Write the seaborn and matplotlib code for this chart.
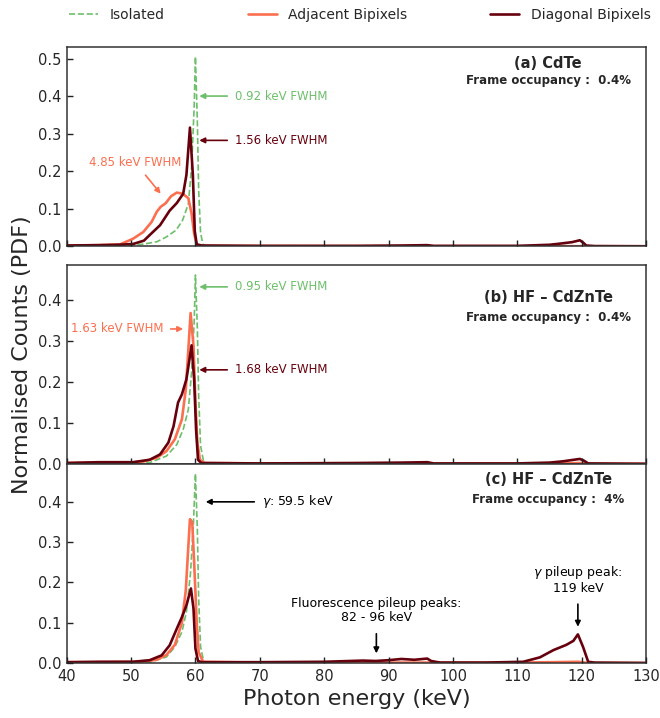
import seaborn as sns
import matplotlib.pyplot as plt
import numpy as np
import pandas as pd

sns.set_style('ticks', {'xtick.direction': 'in', 'ytick.direction': 'in'})
plt.rcParams['font.family'] = ['DejaVu Sans']

# ---- data (keV, normalised counts) ----
# panel (a) CdTe
a_iso_e = [40, 50, 52, 54, 55.5, 57, 58, 58.9, 59.4, 59.8, 60.0, 60.3, 60.5, 60.8, 61.2, 62, 130]
a_iso_v = [0, 0.002, 0.006, 0.012, 0.025, 0.043, 0.069, 0.113, 0.21, 0.37, 0.505, 0.33, 0.15, 0.035, 0.003, 0, 0]
a_adj_e = [40, 45, 48.3, 50.3, 51.9, 53.2, 54.0, 54.6, 55.4, 56.2, 57.1, 58.0, 58.9, 59.4, 59.8, 60.2, 61, 130]
a_adj_v = [0.002, 0.003, 0.005, 0.02, 0.038, 0.065, 0.092, 0.105, 0.115, 0.133, 0.143, 0.14, 0.128, 0.087, 0.034, 0.003, 0.001, 0]
a_dia_e = [40, 45, 48, 50.3, 52, 52.9, 54.5, 56.0, 57.1, 58.1, 58.6, 59.15, 59.6, 59.9, 60.2, 61, 70, 85, 92, 96, 97,
           110, 115, 116.6, 118.5, 119.7, 120.2, 120.7, 122, 130]
a_dia_v = [0.002, 0.003, 0.004, 0.006, 0.015, 0.03, 0.056, 0.095, 0.115, 0.14, 0.19, 0.316, 0.19, 0.04, 0.005, 0.002,
           0.001, 0.001, 0.002, 0.003, 0.001, 0.001, 0.004, 0.007, 0.011, 0.016, 0.01, 0.002, 0.0005, 0]

# panel (b) HF-CdZnTe, 0.4 %
b_iso_e = [40, 50, 52.9, 55.5, 57.1, 58.1, 58.9, 59.4, 59.8, 60.0, 60.3, 60.5, 60.8, 61.3, 62, 130]
b_iso_v = [0, 0.001, 0.003, 0.019, 0.047, 0.084, 0.133, 0.223, 0.346, 0.462, 0.33, 0.167, 0.044, 0.003, 0, 0]
b_adj_e = [40, 45, 50, 52, 54.0, 55.5, 56.8, 57.9, 58.5, 58.9, 59.25, 59.7, 60.0, 60.3, 60.7, 61.4, 70, 90, 96, 97,
           110, 117, 119.7, 121, 130]
b_adj_v = [0.002, 0.003, 0.003, 0.006, 0.015, 0.031, 0.06, 0.109, 0.182, 0.28, 0.369, 0.289, 0.15, 0.052, 0.01, 0.002,
           0.001, 0.001, 0.001, 0, 0, 0.001, 0.002, 0, 0]
b_dia_e = [40, 45, 48, 50.3, 52.9, 54.5, 55.8, 56.6, 57.3, 57.9, 58.6, 59.0, 59.4, 59.8, 60.1, 60.4, 60.9, 70, 85, 92,
           96, 97, 110, 115, 117, 119.7, 120.3, 121, 130]
b_dia_v = [0.002, 0.004, 0.004, 0.004, 0.01, 0.023, 0.052, 0.092, 0.15, 0.17, 0.207, 0.248, 0.29, 0.207, 0.084, 0.01,
           0.002, 0.001, 0.002, 0.003, 0.004, 0.001, 0.001, 0.003, 0.006, 0.012, 0.008, 0.001, 0]

# panel (c) HF-CdZnTe, 4 %
c_iso_e = [40, 50, 52.9, 55.5, 56.8, 57.9, 58.6, 59.25, 59.7, 60.0, 60.3, 60.5, 60.8, 61.3, 62, 130]
c_iso_v = [0, 0.001, 0.002, 0.015, 0.04, 0.077, 0.127, 0.226, 0.35, 0.47, 0.33, 0.16, 0.04, 0.003, 0, 0]
c_adj_e = [40, 45, 50, 52, 54.0, 55.5, 56.8, 57.9, 58.5, 58.9, 59.15, 59.5, 59.8, 60.2, 60.5, 61.2, 70, 110, 115,
           119.5, 121, 130]
c_adj_v = [0.002, 0.002, 0.003, 0.004, 0.008, 0.02, 0.045, 0.1, 0.18, 0.29, 0.357, 0.35, 0.25, 0.1, 0.027, 0.003,
           0.001, 0.001, 0.002, 0.003, 0, 0]
c_dia_e = [40, 45, 50.3, 52.9, 54.75, 56.0, 57.1, 57.9, 58.6, 59.3, 59.7, 60.0, 60.4, 61, 70, 80, 84, 86, 88, 90, 92,
           94, 96, 96.6, 98, 105, 110.9, 113.5, 115.6, 117.6, 118.7, 119.4, 120.2, 121.0, 122, 130]
c_dia_v = [0.002, 0.003, 0.003, 0.007, 0.019, 0.044, 0.085, 0.114, 0.143, 0.185, 0.135, 0.036, 0.005, 0.002, 0.002,
           0.003, 0.005, 0.006, 0.005, 0.007, 0.01, 0.008, 0.011, 0.005, 0.001, 0.001, 0.003, 0.014, 0.032, 0.045,
           0.055, 0.071, 0.04, 0.003, 0.001, 0]

panels = [
    dict(iso=(a_iso_e, a_iso_v), adj=(a_adj_e, a_adj_v), dia=(a_dia_e, a_dia_v),
         title='(a) CdTe', occ='Frame occupancy :  0.4%', ylim=0.53, yticks=[0, 0.1, 0.2, 0.3, 0.4, 0.5],
         ty=0.918, oy=0.831),
    dict(iso=(b_iso_e, b_iso_v), adj=(b_adj_e, b_adj_v), dia=(b_dia_e, b_dia_v),
         title='(b) HF \u2013 CdZnTe', occ='Frame occupancy :  0.4%', ylim=0.487, yticks=[0, 0.1, 0.2, 0.3, 0.4],
         ty=0.838, oy=0.737),
    dict(iso=(c_iso_e, c_iso_v), adj=(c_adj_e, c_adj_v), dia=(c_dia_e, c_dia_v),
         title='(c) HF \u2013 CdZnTe', occ='Frame occupancy :  4%', ylim=0.494, yticks=[0, 0.1, 0.2, 0.3, 0.4],
         ty=0.923, oy=0.823),
]

green = '#6dbf6a'
salmon = '#fb6f50'
maroon = '#67000d'

fig = plt.figure(figsize=(6.6, 7.18), dpi=100)
bottoms = [0.657, 0.354, 0.0766]
axes = []
for p, b in zip(panels, bottoms):
    ax = fig.add_axes([0.101, b, 0.878, 0.2772])
    sns.lineplot(x=p['iso'][0], y=p['iso'][1], ax=ax, color=green, lw=1.2, linestyle='--', label='Isolated')
    sns.lineplot(x=p['adj'][0], y=p['adj'][1], ax=ax, color=salmon, lw=1.9, label='Adjacent Bipixels')
    sns.lineplot(x=p['dia'][0], y=p['dia'][1], ax=ax, color=maroon, lw=1.9, label='Diagonal Bipixels')
    ax.set_xlim(40, 130)
    ax.set_ylim(0, p['ylim'])
    ax.set_yticks(p['yticks'])
    ax.set_xticks(np.arange(40, 131, 10))
    ax.set_axisbelow(False)
    for s in ax.spines.values():
        s.set_visible(True)
        s.set_color('#333333')
        s.set_linewidth(1.1)
    ax.text(0.831, p['ty'], p['title'], transform=ax.transAxes, ha='center', va='center',
            fontsize=10.5, weight='bold')
    ax.text(0.831, p['oy'], p['occ'], transform=ax.transAxes, ha='center', va='center',
            fontsize=8.5, weight='bold')
    ax.set_ylabel('')
    axes.append(ax)

handles, labels = axes[0].get_legend_handles_labels()
for ax in axes:
    ax.get_legend().remove()
for ax in axes[:2]:
    ax.set_xticklabels([])
for ax in axes:
    ax.tick_params(axis='both', which='major', direction='in', length=4.5, width=1, labelsize=10.5, pad=4,
                   bottom=True, left=True, top=False, right=False, color='#222222')

fig.legend(handles, labels, loc='center', bbox_to_anchor=(0.545, 0.979), ncol=3, frameon=False,
           fontsize=10, columnspacing=6.0, handlelength=2.1)

arrow = lambda c: dict(arrowstyle='-|>', color=c, lw=1.2, mutation_scale=8, shrinkA=3, shrinkB=0)
ax = axes[0]
ax.annotate('0.92 keV FWHM', xy=(60.6, 0.40), xytext=(66.1, 0.40), color=green, fontsize=8.5,
            va='center', ha='left', arrowprops=arrow(green))
ax.annotate('1.56 keV FWHM', xy=(60.6, 0.282), xytext=(66.1, 0.282), color=maroon, fontsize=8.5,
            va='center', ha='left', arrowprops=arrow(maroon))
ax.annotate('4.85 keV FWHM', xy=(54.6, 0.14), xytext=(50.6, 0.224), color=salmon, fontsize=8.5,
            va='center', ha='center', arrowprops=arrow(salmon))

ax = axes[1]
ax.annotate('0.95 keV FWHM', xy=(60.6, 0.433), xytext=(66.1, 0.433), color=green, fontsize=8.5,
            va='center', ha='left', arrowprops=arrow(green))
ax.annotate('1.63 keV FWHM', xy=(58.1, 0.33), xytext=(55.0, 0.33), color=salmon, fontsize=8.5,
            va='center', ha='right', arrowprops=arrow(salmon))
ax.annotate('1.68 keV FWHM', xy=(60.6, 0.23), xytext=(66.1, 0.23), color=maroon, fontsize=8.5,
            va='center', ha='left', arrowprops=arrow(maroon))

ax = axes[2]
ax.annotate(r'$\gamma$: 59.5 keV', xy=(61.6, 0.40), xytext=(70.3, 0.40), color='black', fontsize=9,
            va='center', ha='left', arrowprops=arrow('black'))
ax.annotate('Fluorescence pileup peaks:\n82 - 96 keV', xy=(88.1, 0.024), xytext=(88.1, 0.098),
            color='black', fontsize=9, va='bottom', ha='center', linespacing=1.1,
            arrowprops=dict(arrowstyle='-|>', color='black', lw=1.2, mutation_scale=8, shrinkA=5, shrinkB=0))
ax.annotate('$\\gamma$ pileup peak:\n119 keV', xy=(119.4, 0.09), xytext=(119.4, 0.168),
            color='black', fontsize=9, va='bottom', ha='center', linespacing=1.1,
            arrowprops=dict(arrowstyle='-|>', color='black', lw=1.2, mutation_scale=8, shrinkA=4, shrinkB=0))
ax.set_xlabel('Photon energy (keV)', fontsize=16, labelpad=4)

fig.text(0.033, 0.506, 'Normalised Counts (PDF)', rotation=90, ha='center', va='center', fontsize=16)

fig.savefig('out.png', dpi=100)
